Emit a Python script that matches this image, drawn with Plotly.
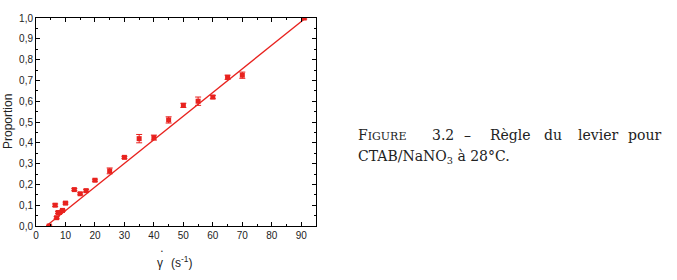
import plotly.graph_objects as go

# Data
shear_rate = [4.5, 6.5, 7.0, 7.5, 8.0, 9.0, 10, 13, 15, 17, 20, 25, 30, 35, 40, 45, 50, 55, 60, 65, 70, 91]
proportion = [0.0, 0.10, 0.04, 0.065, 0.065, 0.075, 0.11, 0.175, 0.155, 0.17, 0.22, 0.265, 0.33, 0.42, 0.425, 0.51, 0.58, 0.60, 0.62, 0.715, 0.725, 1.0]
error = [0.004, 0.006, 0.005, 0.005, 0.005, 0.005, 0.005, 0.005, 0.005, 0.006, 0.005, 0.014, 0.005, 0.02, 0.012, 0.015, 0.01, 0.02, 0.008, 0.01, 0.015, 0.005]

# Linear fit (lever rule)
fit_x = [3.5, 91.5]
fit_slope = 1 / 88.0
fit_x0 = 3.5
fit_y = [fit_slope * (x - fit_x0) for x in fit_x]

x_ticks = [0, 10, 20, 30, 40, 50, 60, 70, 80, 90]
y_ticks = [0.0, 0.1, 0.2, 0.3, 0.4, 0.5, 0.6, 0.7, 0.8, 0.9, 1.0]
y_ticklabels = ["0,0", "0,1", "0,2", "0,3", "0,4", "0,5", "0,6", "0,7", "0,8", "0,9", "1,0"]

RED = "#e8221e"
SANS = "Liberation Sans, Arial"
serif = "DejaVu Serif, serif"

fig = go.Figure()
fig.add_trace(go.Scatter(x=fit_x, y=fit_y, mode="lines",
                         line=dict(color=RED, width=1.3), showlegend=False))
fig.add_trace(go.Scatter(x=shear_rate, y=proportion, mode="markers",
                         marker=dict(color=RED, size=5, symbol="square"),
                         error_y=dict(type="data", array=error, color=RED, thickness=1, width=3),
                         showlegend=False))

axis_common = dict(showline=True, linecolor="black", linewidth=1, mirror="ticks",
                   ticks="inside", ticklen=4, tickcolor="black", showgrid=False, zeroline=False,
                   automargin=False,
                   tickfont=dict(family=SANS, size=10, color="#222"))

fig.update_xaxes(range=[0, 95], tickvals=x_ticks,
                 minor=dict(dtick=5, tick0=0, ticks="inside", ticklen=2, tickcolor="black"),
                 **axis_common)
fig.update_yaxes(range=[0, 1.0], tickvals=y_ticks, ticktext=y_ticklabels,
                 minor=dict(dtick=0.05, tick0=0, ticks="inside", ticklen=2, tickcolor="black"),
                 **axis_common)

annotations = [
    dict(text="Proportion", x=8, y=122, textangle=-90, xanchor="center", yanchor="middle",
         font=dict(family=SANS, size=12, color="#222")),
    dict(text="γ", x=160, y=263, xanchor="center", yanchor="middle",
         font=dict(family=SANS, size=12, color="#222")),
    dict(text="•", x=161.5, y=251.5, xanchor="center", yanchor="middle",
         font=dict(family=SANS, size=5, color="#222")),
    dict(text="(s<sup>-1</sup>)", x=169, y=262, xanchor="left", yanchor="middle",
         font=dict(family=SANS, size=12, color="#222")),
]

cap_words = [
    ("F<span style='font-size:11px'>IGURE</span>", 356, "left"),
    ("3.2", 430, "left"),
    ("–", 462, "left"),
    ("Règle", 488, "left"),
    ("du", 542, "left"),
    ("levier", 576, "left"),
    ("pour", 663, "right"),
]
for txt, px, anc in cap_words:
    annotations.append(dict(text=txt, x=px, y=135, xanchor=anc, yanchor="middle",
                            font=dict(family=serif, size=14, color="#222")))
annotations.append(dict(text="CTAB/NaNO<sub>3</sub> à 28°C.", x=356, y=157,
                        xanchor="left", yanchor="middle", font=dict(family=serif, size=14, color="#222")))

# convert pixel coordinates to paper coords
W, H = 677, 280
ml, mr, mt, mb = 36, 361, 18, 54
pw, ph = W - ml - mr, H - mt - mb
for a in annotations:
    a["showarrow"] = False
    a["xref"] = "paper"
    a["yref"] = "paper"
    a["x"] = (a["x"] - ml) / pw
    a["y"] = 1 - (a["y"] - mt) / ph

fig.update_layout(width=W, height=H, margin=dict(l=ml, r=mr, t=mt, b=mb),
                  plot_bgcolor="white", paper_bgcolor="white", annotations=annotations)

fig.write_html("out.html")
